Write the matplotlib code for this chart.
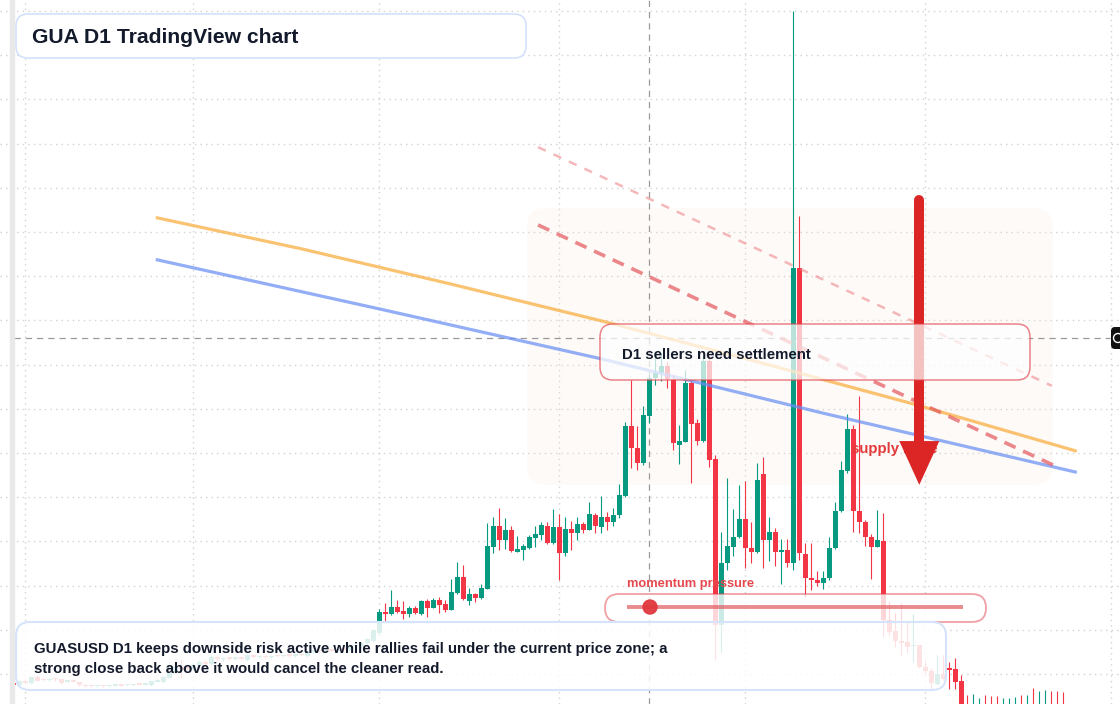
import numpy as np
import pandas as pd
import matplotlib
matplotlib.use('Agg')
import matplotlib.pyplot as plt
import matplotlib.dates as mdates
import matplotlib.transforms as mtransforms
from matplotlib.colors import to_rgba
from matplotlib.patches import FancyBboxPatch, Circle, Rectangle
from matplotlib.ticker import MultipleLocator

plt.rcParams['font.family'] = ['Liberation Sans', 'DejaVu Sans']

W, H = 1120, 704

# GUASUSD daily candles (price units)
dates = pd.date_range('2025-01-30', periods=176, freq='D')
opens = [197.7, 197.5, 198.5, 197.9, 199.4, 198.9, 198.6, 198.9, 198.8, 198.3,
         198.4, 198.1, 197.6, 197.3, 197.2, 197.3, 197.2, 197.3, 197.4, 197.4,
         197.4, 197.7, 197.6, 197.5, 198.3, 198.2, 199.2, 200.5, 201.5, 201.6,
         201.1, 202.0, 202.7, 202.3, 203.8, 203.3, 203.6, 203.4, 203.5, 203.2,
         204.3, 203.8, 204.0, 203.8, 204.1, 204.0, 204.2, 204.1, 204.3, 204.1,
         205.0, 205.2, 205.1, 205.4, 205.3, 205.7, 205.5, 206.3, 206.3, 207.0,
         207.5, 209.3, 214.0, 213.5, 215.2, 214.3, 213.5, 214.9, 213.6, 216.5,
         215.0, 216.7, 215.8, 214.5, 218.4, 221.9, 216.6, 218.1, 217.1, 219.3,
         228.8, 233.5, 230.3, 232.6, 227.6, 228.1, 228.5, 230.8, 231.4, 233.5,
         229.6, 233.3, 227.3, 232.8, 232.0, 233.9, 232.6, 236.0, 233.3, 235.5,
         234.4, 235.9, 240.3, 256.1, 251.2, 247.8, 258.4, 267.0, 268.1, 269.7,
         266.7, 251.8, 252.6, 265.9, 256.7, 252.8, 270.9, 248.6, 211.1, 225.1,
         228.8, 231.0, 235.1, 228.6, 227.5, 245.2, 230.3, 232.1, 227.7, 228.1,
         225.2, 291.9, 227.1, 221.8, 221.3, 220.6, 221.8, 228.4, 236.9, 246.0,
         255.4, 236.8, 234.3, 231.1, 228.8, 230.1, 212.3, 209.7, 207.5, 207.2,
         206.3, 206.6, 201.5, 200.7, 197.7, 199.9, 201.4, 201.1, 198.4, 192.5,
         191.5, 191.6, 192.4, 192.3, 192.2, 191.2, 191.4, 191.5, 192.5, 191.4,
         192.6, 191.6, 191.7, 192.7, 192.6, 192.5]
highs = [198.0, 198.6, 198.9, 199.5, 199.8, 199.1, 199.1, 199.1, 198.9, 198.6,
         198.6, 198.2, 197.7, 197.4, 197.4, 197.4, 197.4, 197.5, 197.5, 197.6,
         197.7, 197.8, 197.8, 198.5, 198.8, 199.5, 200.7, 201.8, 203.2, 202.3,
         202.5, 203.2, 203.2, 204.3, 204.1, 203.8, 203.8, 203.7, 203.7, 204.5,
         204.5, 204.3, 204.2, 204.3, 204.3, 204.4, 204.4, 204.5, 204.5, 205.2,
         205.4, 205.4, 205.6, 205.6, 205.9, 205.9, 206.5, 206.8, 207.2, 208.1,
         210.2, 214.7, 216.1, 219.0, 216.7, 216.5, 215.4, 215.4, 216.7, 217.0,
         217.2, 217.4, 216.7, 221.5, 225.3, 224.7, 219.5, 218.4, 220.4, 234.1,
         235.6, 237.6, 235.3, 233.4, 231.2, 229.4, 231.4, 233.5, 234.3, 234.3,
         237.4, 236.2, 235.5, 234.6, 235.5, 234.5, 238.9, 236.4, 240.2, 236.7,
         237.6, 242.9, 256.9, 266.6, 256.1, 260.6, 267.9, 271.5, 272.6, 270.6,
         267.6, 256.3, 268.7, 266.5, 257.7, 272.2, 272.2, 249.5, 232.2, 244.3,
         237.3, 242.8, 243.6, 234.5, 247.7, 249.1, 235.6, 233.0, 230.5, 230.5,
         350.0, 303.6, 229.6, 229.6, 223.2, 223.2, 231.1, 238.9, 248.3, 258.8,
         256.3, 262.9, 234.8, 231.7, 237.0, 236.5, 216.5, 213.8, 216.1, 211.9,
         213.6, 206.6, 202.9, 201.4, 204.3, 204.3, 202.7, 203.7, 199.8, 195.2,
         195.5, 194.6, 195.2, 195.0, 195.0, 194.6, 194.6, 194.9, 195.2, 195.2,
         196.9, 196.2, 196.4, 196.2, 196.2, 195.9]
lows = [197.4, 197.3, 197.7, 197.7, 198.4, 198.4, 198.4, 198.5, 197.7, 198.2,
        198.2, 197.3, 197.1, 197.1, 197.1, 197.1, 197.1, 197.2, 197.2, 197.3,
        197.3, 197.4, 197.5, 197.3, 198.2, 198.0, 199.1, 200.2, 199.2, 200.7,
        200.9, 201.6, 201.8, 202.0, 202.9, 202.9, 203.2, 203.2, 203.2, 202.9,
        203.6, 203.6, 203.6, 203.6, 203.8, 203.8, 203.9, 203.9, 204.0, 203.8,
        204.8, 204.9, 204.9, 205.1, 205.1, 205.3, 205.3, 206.1, 206.1, 206.8,
        207.3, 208.8, 211.8, 213.3, 213.8, 212.4, 212.9, 213.6, 213.3, 212.8,
        214.9, 213.8, 214.1, 214.4, 218.2, 216.7, 215.5, 216.2, 216.9, 219.2,
        227.4, 228.1, 228.3, 227.6, 227.5, 225.8, 228.3, 228.8, 230.3, 229.4,
        229.4, 221.2, 226.7, 228.1, 230.3, 232.0, 232.5, 232.0, 232.0, 232.6,
        233.4, 235.3, 240.0, 246.5, 246.2, 247.3, 256.8, 265.4, 266.2, 264.7,
        250.7, 247.5, 252.5, 243.2, 251.8, 252.5, 246.8, 203.2, 204.8, 223.5,
        226.7, 230.8, 223.9, 225.1, 227.4, 223.9, 225.5, 224.4, 220.4, 224.3,
        223.6, 225.8, 217.5, 219.0, 219.8, 219.3, 221.3, 228.2, 236.7, 245.4,
        232.2, 232.0, 229.0, 221.6, 228.7, 208.4, 208.5, 206.2, 204.0, 204.8,
        202.6, 201.4, 200.1, 196.5, 197.6, 198.6, 196.7, 196.6, 190.5, 190.0,
        190.2, 190.3, 190.1, 190.0, 189.9, 190.0, 190.2, 190.3, 190.1, 190.2,
        190.4, 190.5, 190.6, 190.4, 190.3, 190.2]
closes = [197.6, 198.4, 198.0, 199.4, 198.5, 198.6, 198.8, 198.8, 197.9, 198.5,
          198.3, 197.4, 197.2, 197.2, 197.3, 197.2, 197.3, 197.4, 197.3, 197.5,
          197.6, 197.5, 197.7, 198.4, 198.6, 199.4, 200.5, 201.5, 200.9, 201.1,
          202.0, 202.7, 202.3, 203.8, 203.3, 203.6, 203.4, 203.5, 203.4, 204.3,
          203.8, 204.0, 203.8, 204.1, 204.0, 204.2, 204.1, 204.3, 204.2, 205.0,
          205.2, 205.1, 205.4, 205.3, 205.7, 205.5, 206.3, 206.6, 207.0, 207.9,
          210.0, 214.0, 213.5, 215.2, 214.1, 213.5, 214.9, 213.9, 216.5, 215.0,
          216.7, 215.7, 214.5, 218.6, 221.9, 216.9, 218.1, 217.1, 219.5, 229.0,
          233.5, 230.4, 232.6, 227.8, 228.3, 229.0, 231.1, 231.7, 233.7, 229.6,
          233.3, 227.3, 232.8, 232.0, 234.0, 232.6, 236.2, 233.4, 235.5, 234.3,
          236.0, 240.5, 256.1, 251.2, 247.8, 258.6, 266.9, 268.1, 269.7, 266.7,
          252.3, 252.7, 265.9, 256.6, 252.8, 270.9, 248.5, 211.1, 225.1, 229.0,
          231.1, 235.1, 228.6, 227.5, 243.9, 230.3, 232.1, 227.7, 228.1, 225.2,
          291.9, 227.3, 221.8, 221.2, 220.6, 221.8, 228.4, 236.9, 246.2, 255.4,
          236.8, 234.3, 231.1, 228.8, 230.3, 212.3, 209.4, 207.4, 207.1, 206.2,
          206.6, 201.5, 200.6, 197.9, 199.9, 198.9, 201.0, 198.3, 191.4, 191.5,
          192.5, 192.4, 191.3, 191.2, 191.0, 192.1, 192.3, 192.4, 191.4, 192.5,
          191.6, 192.6, 192.7, 191.7, 191.5, 191.4]

# moving averages (read at a few points)
ma_fast_dates = ['2025-02-23', '2025-03-19', '2025-04-13', '2025-05-08',
                 '2025-06-02', '2025-06-29', '2025-07-26']
ma_fast = [303.2, 296.2, 288.2, 279.9, 271.0, 261.1, 250.5]
ma_slow_dates = ['2025-02-23', '2025-04-01', '2025-05-08', '2025-06-14', '2025-07-26']
ma_slow = [293.7, 282.6, 271.3, 259.0, 245.7]

# descending resistance lines
res_dates = ['2025-04-27 11:00', '2025-07-22 14:00']
res_inner = [301.6, 247.1]
res_outer = [319.2, 265.2]

cross_date = '2025-05-16'
cross_price = 276.0
arrow_date = '2025-06-30'
arrow_from, arrow_to = 307.3, 242.8

title = 'GUA D1 TradingView chart'
note = ['GUASUSD D1 keeps downside risk active while rallies fail under the current price zone; a',
        'strong close back above it would cancel the cleaner read.']

UP, DOWN = '#089981', '#f23645'

fig = plt.figure(figsize=(W / 100, H / 100), dpi=100)
ax = fig.add_axes([0, 0, 1, 1])
x = mdates.date2num(dates)
ax.set_xlim(x[0] - 2.22, x[0] + 184.45)
ax.set_ylim(193.21, 352.49)

# pixel layout transform (origin top-left)
P = mtransforms.Affine2D().scale(1 / W, -1 / H).translate(0, 1) + fig.transFigure

ax.xaxis.set_major_locator(mdates.MonthLocator())
ax.yaxis.set_major_locator(MultipleLocator(10))
ax.set_axisbelow(True)
ax.grid(True, color='#d2d2d2', lw=1.0, ls=(0, (1, 3)))
ax.tick_params(length=0, labelbottom=False, labelleft=False)
for s in ax.spines.values():
    s.set_visible(False)


def rbox(x0, y0, x1, y1, r, fc, ec, lw, z):
    p = FancyBboxPatch((x0, y0), x1 - x0, y1 - y0,
                       boxstyle=f'round,pad=0,rounding_size={r}',
                       transform=P, fc=fc, ec=ec, lw=lw, zorder=z, clip_on=False)
    ax.add_patch(p)


# supply zone
rbox(527, 208, 1053, 485, 20, to_rgba('#f7e4d2', 0.15), 'none', 0, 0.8)

# candles
o, h, l, c = (np.array(v) for v in (opens, highs, lows, closes))
col = np.where(c >= o, UP, DOWN)
ax.vlines(x, l, h, colors=col, lw=0.8, zorder=3)
ax.bar(x, np.maximum(np.abs(c - o), 0.35), bottom=np.minimum(o, c), width=0.75,
       color=col, lw=0, zorder=4)

# crosshair
cx = mdates.date2num(pd.Timestamp(cross_date))
ax.axvline(cx, color='#9a9a9a', lw=0.9, ls=(0, (5, 4)), zorder=2.5)
ax.axhline(cross_price, xmin=14 / W, xmax=1110 / W, color='#9a9a9a', lw=0.9,
           ls=(0, (5, 4)), zorder=2.5)

# moving averages and resistance
ax.plot(pd.to_datetime(ma_fast_dates), ma_fast, color='#f9ad3c', alpha=0.72, lw=2.3, zorder=5)
ax.plot(pd.to_datetime(ma_slow_dates), ma_slow, color='#6a8ff4', alpha=0.72, lw=2.3, zorder=5)
ax.plot(pd.to_datetime(res_dates), res_inner, color='#e4575b', alpha=0.7, lw=2.6,
        ls=(0, (3.4, 2.3)), zorder=5)
ax.plot(pd.to_datetime([res_dates[0], '2025-07-22 02:00']), res_outer, color='#ee7f82',
        alpha=0.55, lw=1.8, ls=(0, (3.4, 3.4)), zorder=5)

# supply label and arrow
ax.text(851, 449.5, 'supply zone', transform=P, color='#e23a3a', fontsize=10.8,
        fontweight='bold', va='center', ha='left', zorder=5.5)
ax_x = mdates.date2num(pd.Timestamp(arrow_date))
ax.plot([ax_x, ax_x], [arrow_from, arrow_to + 9.5], color='#dc2626', lw=7.2,
        solid_capstyle='round', zorder=6)
ax.annotate('', xy=(ax_x, arrow_to), xytext=(ax_x, arrow_to + 11),
            arrowprops=dict(arrowstyle='-|>,head_length=31.5,head_width=14.4',
                            mutation_scale=1, color='#dc2626', lw=0,
                            shrinkA=0, shrinkB=0), zorder=6)

# overlays
rbox(16, 14, 526, 58, 12, 'white', '#d3e2fb', 1.2, 10)
ax.text(32, 37.5, title, transform=P, fontsize=15.2, fontweight='bold',
        color='#131a2b', va='center', ha='left', zorder=11)

rbox(600, 324, 1030, 380, 13, to_rgba('white', 0.72), to_rgba('#e0434c', 0.65), 1.1, 10)
ax.text(622, 355, 'D1 sellers need settlement', transform=P, fontsize=10.8,
        fontweight='bold', color='#131a2b', va='center', ha='left', zorder=11)

ax.text(627, 583.5, 'momentum pressure', transform=P, fontsize=9.3, fontweight='bold',
        color='#e5484d', va='center', ha='left', zorder=11)
rbox(605, 594, 986, 622, 14, to_rgba('white', 0.8), to_rgba('#e0434c', 0.5), 1.3, 10)
ax.plot([627, 963], [607, 607], transform=P, color='#e05a5e', alpha=0.7, lw=2.8,
        solid_capstyle='butt', zorder=11)
ax.add_patch(Circle((650, 607), 7, transform=P, color='#e0393e', alpha=0.95,
                    zorder=12, clip_on=False))

rbox(16, 622, 946, 690, 14, to_rgba('white', 0.86), '#d6e4fb', 1.5, 10)
for k, line in enumerate(note):
    ax.text(34, 649 + 20 * k, line, transform=P, fontsize=10.8, fontweight='bold',
            color='#131a2b', va='center', ha='left', zorder=11)

# left scale strip and right crosshair badge
ax.add_patch(Rectangle((10, 0), 4, H, transform=P, color='#e9e9e9', zorder=12, clip_on=False))
rbox(1111, 327, 1126, 349, 4, '#111111', 'none', 0, 12)
ax.add_patch(Circle((1118, 338), 4.5, transform=P, fc='none', ec='white', lw=1.0,
                    zorder=13, clip_on=False))

fig.savefig('out.png', dpi=100)
